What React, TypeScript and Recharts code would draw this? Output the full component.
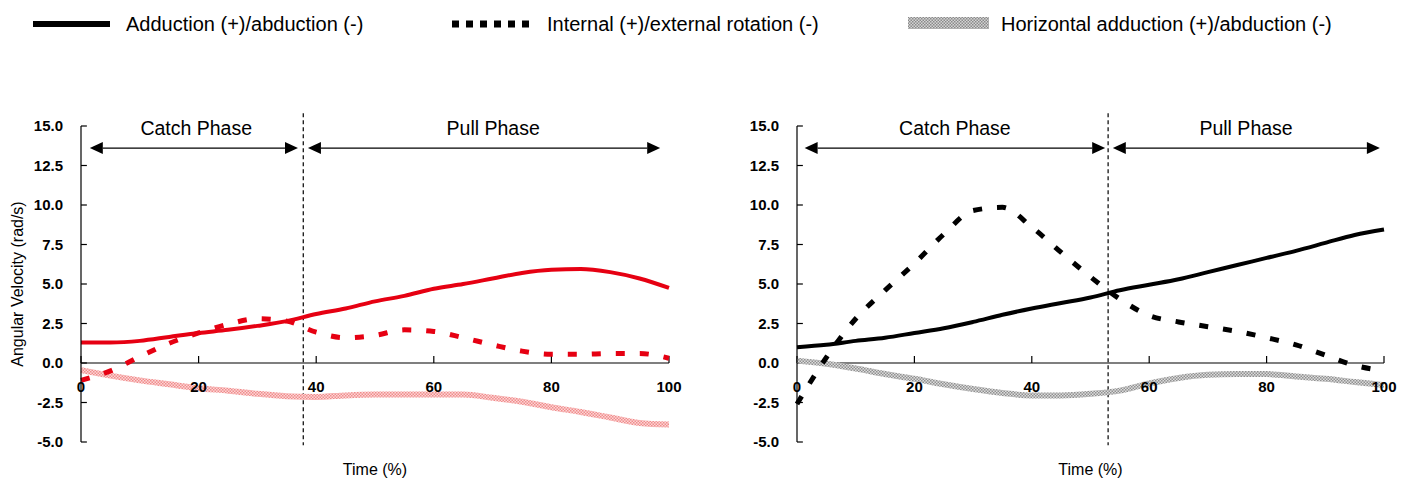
import React from 'react';
import {
  LineChart,
  Line,
  XAxis,
  YAxis,
  ReferenceLine,
  ReferenceDot
} from 'recharts';

const FONT = '"Liberation Sans", Arial, Helvetica, sans-serif';
const RED = '#e60012';

// time points (% of stroke)
const times = [0, 5, 10, 15, 20, 25, 30, 35, 40, 45, 50, 55, 60, 65, 70, 75, 80, 85, 90, 95, 100];

// left panel (red)
const leftAdduction = [1.3, 1.3, 1.4, 1.65, 1.9, 2.1, 2.35, 2.65, 3.1, 3.45, 3.9, 4.25, 4.7, 5.0, 5.35, 5.7, 5.9, 5.95, 5.75, 5.35, 4.75];
const leftRotation = [-1.1, -0.5, 0.4, 1.25, 1.9, 2.45, 2.8, 2.65, 1.95, 1.6, 1.75, 2.1, 2.0, 1.6, 1.15, 0.75, 0.55, 0.55, 0.6, 0.6, 0.3];
const leftHorizontal = [-0.45, -0.8, -1.1, -1.35, -1.6, -1.75, -1.95, -2.1, -2.15, -2.05, -2.0, -2.0, -2.0, -2.0, -2.2, -2.45, -2.8, -3.1, -3.45, -3.8, -3.9];

// right panel (black)
const rightAdduction = [1.0, 1.15, 1.4, 1.6, 1.9, 2.2, 2.6, 3.05, 3.45, 3.8, 4.15, 4.6, 4.95, 5.3, 5.75, 6.2, 6.65, 7.1, 7.6, 8.1, 8.45];
const rightRotation = [-2.6, 0.35, 2.8, 4.6, 6.3, 8.15, 9.65, 9.85, 8.6, 7.0, 5.45, 4.05, 3.0, 2.6, 2.3, 2.0, 1.6, 1.15, 0.5, -0.15, -0.5];
const rightHorizontal = [0.15, -0.05, -0.35, -0.7, -1.0, -1.35, -1.65, -1.9, -2.05, -2.05, -1.95, -1.75, -1.3, -0.95, -0.75, -0.7, -0.7, -0.85, -1.0, -1.2, -1.4];

const yTicks = [-5, -2.5, 0, 2.5, 5, 7.5, 10, 12.5, 15];
const xTicks = [0, 20, 40, 60, 80, 100];

const legendLabels = [
  'Adduction (+)/abduction (-)',
  'Internal (+)/external rotation (-)',
  'Horizontal adduction (+)/abduction (-)'
];

// phase boundary and arrow spans, in % time
const leftPhase = { boundary: 37.8, catchArrow: [1.5, 36.9], pullArrow: [38.6, 98.5], catchLabel: 19.6, pullLabel: 70.1 };
const rightPhase = { boundary: 53, catchArrow: [1.3, 52.5], pullArrow: [53.8, 99.3], catchLabel: 26.9, pullLabel: 76.5 };

const toRows = (a: number[], r: number[], h: number[]) =>
  times.map((t, i) => ({ t, add: a[i], rot: r[i], hor: h[i] }));

const arrowShape = (p: any) => {
  const xa = Math.min(p.x1, p.x2);
  const xb = Math.max(p.x1, p.x2);
  const y = p.y1;
  const len = 13;
  const half = 6;
  return (
    <g>
      <line x1={xa + len} y1={y} x2={xb - len} y2={y} stroke="#000" strokeWidth={1.3} />
      <polygon points={`${xa},${y} ${xa + len},${y - half} ${xa + len},${y + half}`} fill="#000" />
      <polygon points={`${xb},${y} ${xb - len},${y - half} ${xb - len},${y + half}`} fill="#000" />
    </g>
  );
};

interface PanelProps {
  data: any[];
  color: string;
  hatchId: string;
  hatchBg: string;
  hatchDot: string;
  phase: typeof leftPhase;
  showYLabel: boolean;
  marginLeft: number;
  marginRight: number;
}

const Panel: React.FC<PanelProps> = ({ data, color, hatchId, hatchBg, hatchDot, phase, showYLabel, marginLeft, marginRight }) => {
  const tickStyle = { fill: '#000', fontSize: 15, fontWeight: 700, fontFamily: FONT };
  const titleStyle = { fontSize: 16, fontFamily: FONT, fill: '#000' };
  const arrowY = 13.6;
  const labelY = 14.87;
  return (
    <LineChart
      width={705}
      height={369}
      data={data}
      margin={{ top: 16, right: marginRight, bottom: 4, left: marginLeft }}
    >
      <defs>
        <pattern id={hatchId} width="3" height="3" patternUnits="userSpaceOnUse">
          <rect width="3" height="3" fill={hatchBg} />
          <rect width="1.5" height="1.5" fill={hatchDot} />
          <rect x="1.5" y="1.5" width="1.5" height="1.5" fill={hatchDot} />
        </pattern>
      </defs>
      <XAxis
        dataKey="t"
        type="number"
        domain={[0, 100]}
        ticks={xTicks}
        tick={false}
        tickLine={false}
        axisLine={false}
        height={33}
        label={{ value: 'Time (%)', position: 'insideBottom', offset: 0, fill: '#000', fontSize: 16, style: titleStyle }}
      />
      <YAxis
        type="number"
        domain={[-5, 15]}
        ticks={yTicks}
        interval={0}
        width={64}
        tickFormatter={(v: number) => v.toFixed(1)}
        tick={tickStyle}
        tickLine={false}
        tickSize={6}
        tickMargin={12}
        axisLine={{ stroke: '#000', strokeWidth: 1.2 }}
        label={
          showYLabel
            ? { value: 'Angular Velocity (rad/s)', angle: -90, position: 'insideLeft', offset: 0, fill: '#000', fontSize: 16, style: { ...titleStyle, textAnchor: 'middle' } }
            : undefined
        }
      />

      {/* x axis drawn at zero */}
      <ReferenceLine y={0} stroke="#000" strokeWidth={1.2} />
      {xTicks.map((t) => (
        <ReferenceLine key={`xt${t}`} segment={[{ x: t, y: 0 }, { x: t, y: 0.45 }]} stroke="#000" strokeWidth={1.2} />
      ))}
      {yTicks.map((v) => (
        <ReferenceLine key={`yt${v}`} segment={[{ x: 0, y: v }, { x: 1, y: v }]} stroke="#000" strokeWidth={1.2} />
      ))}
      {xTicks.map((t) => (
        <ReferenceDot
          key={`xl${t}`}
          x={t}
          y={0}
          r={0.01}
          fill="none"
          stroke="none"
          label={{ value: String(t), position: 'bottom', offset: 18, ...tickStyle, style: tickStyle }}
        />
      ))}

      {/* phases */}
      <ReferenceLine
        segment={[{ x: phase.boundary, y: 15.8 }, { x: phase.boundary, y: -5.2 }]}
        ifOverflow="visible"
        stroke="#000"
        strokeWidth={1.2}
        strokeDasharray="4 3"
      />
      <ReferenceLine segment={[{ x: phase.catchArrow[0], y: arrowY }, { x: phase.catchArrow[1], y: arrowY }]} shape={arrowShape} />
      <ReferenceLine segment={[{ x: phase.pullArrow[0], y: arrowY }, { x: phase.pullArrow[1], y: arrowY }]} shape={arrowShape} />
      <ReferenceDot x={phase.catchLabel} y={labelY} r={0.01} fill="none" stroke="none"
        label={{ value: 'Catch Phase', position: 'center', fill: '#000', fontSize: 19.5, fontFamily: FONT }} />
      <ReferenceDot x={phase.pullLabel} y={labelY} r={0.01} fill="none" stroke="none"
        label={{ value: 'Pull Phase', position: 'center', fill: '#000', fontSize: 19.5, fontFamily: FONT }} />

      <Line type="monotone" dataKey="hor" stroke={`url(#${hatchId})`} strokeWidth={6} dot={false} isAnimationActive={false} />
      <Line type="monotone" dataKey="rot" stroke={color} strokeWidth={5} strokeDasharray="9 15" dot={false} isAnimationActive={false} />
      <Line type="monotone" dataKey="add" stroke={color} strokeWidth={4} dot={false} isAnimationActive={false} />
    </LineChart>
  );
};

const Legend = () => (
  <svg width={1410} height={50} style={{ position: 'absolute', left: 0, top: 0 }}>
    <defs>
      <pattern id="legendHatch" width="3" height="3" patternUnits="userSpaceOnUse">
        <rect width="3" height="3" fill="#d4d4d4" />
        <rect width="1.5" height="1.5" fill="#8a8a8a" />
        <rect x="1.5" y="1.5" width="1.5" height="1.5" fill="#8a8a8a" />
      </pattern>
    </defs>
    <rect x={33} y={21} width={77} height={6} fill="#000" />
    {[0, 1, 2, 3, 4, 5].map((i) => (
      <rect key={i} x={452 + i * 14} y={20.5} width={7} height={7} fill="#000" />
    ))}
    <rect x={908} y={17} width={81} height={12} fill="url(#legendHatch)" />
    <g fontFamily={FONT} fontSize={20} fill="#000">
      <text x={126} y={31}>{legendLabels[0]}</text>
      <text x={547} y={31}>{legendLabels[1]}</text>
      <text x={1001} y={31}>{legendLabels[2]}</text>
    </g>
  </svg>
);

export default function App() {
  const leftData = toRows(leftAdduction, leftRotation, leftHorizontal);
  const rightData = toRows(rightAdduction, rightRotation, rightHorizontal);
  return (
    <div style={{ position: 'absolute', left: 0, top: 0, width: 1410, height: 479, background: '#fff', fontFamily: FONT, overflow: 'hidden' }}>
      <Legend />
      <div style={{ position: 'absolute', left: 0, top: 110 }}>
        <Panel data={leftData} color={RED} hatchId="hatchRed" hatchBg="#fcd6d6" hatchDot="#f08c8c"
          phase={leftPhase} showYLabel marginLeft={17} marginRight={36} />
      </div>
      <div style={{ position: 'absolute', left: 705, top: 110 }}>
        <Panel data={rightData} color="#000" hatchId="hatchGray" hatchBg="#dcdcdc" hatchDot="#909090"
          phase={rightPhase} showYLabel={false} marginLeft={28} marginRight={26} />
      </div>
    </div>
  );
}
